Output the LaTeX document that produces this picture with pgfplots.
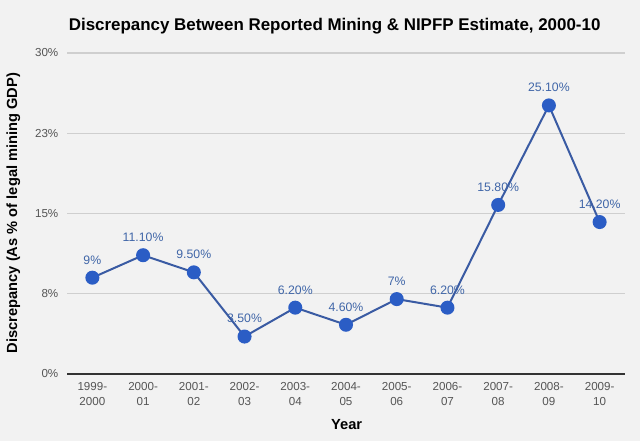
\documentclass[border=0pt]{standalone}
\usepackage{pgfplots}
\pgfplotsset{compat=1.18}
\usepackage{fontspec}
\setmainfont{Liberation Sans}
\definecolor{bg}{HTML}{F2F2F2}
\definecolor{linec}{HTML}{3A5BA3}
\definecolor{markc}{HTML}{2B5DC5}
\definecolor{labc}{HTML}{4066A8}
\definecolor{gridc}{HTML}{CFCFCF}
\definecolor{tickc}{HTML}{555555}
\begin{document}
\begin{tikzpicture}
\fill[bg] (0pt,0pt) rectangle (480pt,330.75pt);
\useasboundingbox (0pt,0pt) rectangle (480pt,330.75pt);
\node[font=\bfseries\fontsize{12.7pt}{14pt}\selectfont, text=black] at (251pt,311pt) {Discrepancy Between Reported Mining \& NIPFP Estimate, 2000-10};
\node[font=\bfseries\fontsize{11pt}{12pt}\selectfont, rotate=90] at (10pt,171pt) {Discrepancy (As \% of legal mining GDP)};
\node[font=\bfseries\fontsize{11pt}{12pt}\selectfont] at (260pt,12pt) {Year};
\begin{axis}[
  at={(50.25pt,50.25pt)}, anchor=south west,
  scale only axis, width=418.5pt, height=240.75pt,
  xmin=-0.5, xmax=10.5, ymin=0, ymax=30,
  axis line style={draw=none},
  xtick={0,...,10},
  xticklabels={{1999-\\2000},{2000-\\01},{2001-\\02},{2002-\\03},{2003-\\04},{2004-\\05},{2005-\\06},{2006-\\07},{2007-\\08},{2008-\\09},{2009-\\10}},
  x tick label style={align=center, font=\fontsize{8.7pt}{11pt}\selectfont, text=tickc, yshift=-3pt},
  ytick={0,7.5,15,22.5,30},
  yticklabels={0\%,8\%,15\%,23\%,30\%},
  y tick label style={font=\fontsize{8.7pt}{10pt}\selectfont, text=tickc, xshift=-3pt},
  major tick length=0pt,
  ymajorgrids, grid style={gridc, line width=0.9pt},
  clip=false,
  nodes near coords, point meta=explicit symbolic,
  every node near coord/.append style={font=\fontsize{9.2pt}{10pt}\selectfont, text=labc, yshift=6pt},
]
\draw[color=black!80, line width=0.9pt] (axis cs:-0.5,0) -- (axis cs:10.5,0);
\addplot[color=linec, line width=1.5pt, mark=*, mark size=4.5pt, mark options={fill=markc, draw=markc}] coordinates {
(0,9) [9\%]
(1,11.1) [11.10\%]
(2,9.5) [9.50\%]
(3,3.5) [3.50\%]
(4,6.2) [6.20\%]
(5,4.6) [4.60\%]
(6,7) [7\%]
(7,6.2) [6.20\%]
(8,15.8) [15.80\%]
(9,25.1) [25.10\%]
(10,14.2) [14.20\%]
};
\end{axis}
\end{tikzpicture}
\end{document}
